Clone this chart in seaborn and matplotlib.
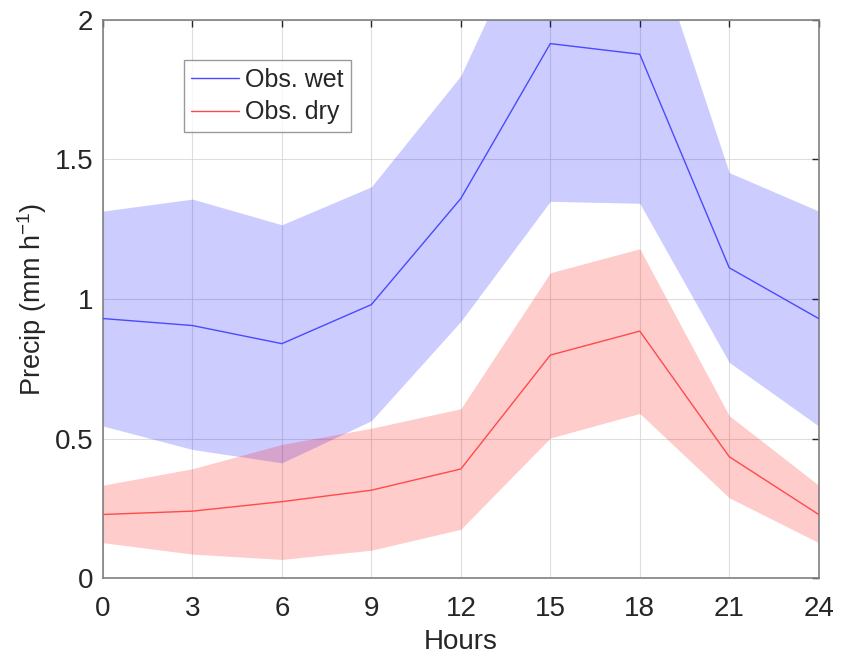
import matplotlib
matplotlib.use("Agg")
import matplotlib.pyplot as plt
import seaborn as sns
import numpy as np
import pandas as pd

hours = [0, 3, 6, 9, 12, 15, 18, 21, 24]

wet_mean = [0.93, 0.905, 0.84, 0.98, 1.36, 1.915, 1.877, 1.112, 0.93]
wet_upper = [1.315, 1.358, 1.266, 1.402, 1.80, 2.49, 2.42, 1.453, 1.315]
wet_lower = [0.545, 0.461, 0.413, 0.564, 0.92, 1.350, 1.343, 0.773, 0.545]

dry_mean = [0.228, 0.240, 0.274, 0.315, 0.391, 0.799, 0.885, 0.435, 0.228]
dry_upper = [0.333, 0.392, 0.479, 0.537, 0.607, 1.094, 1.180, 0.582, 0.333]
dry_lower = [0.127, 0.086, 0.067, 0.100, 0.175, 0.502, 0.590, 0.288, 0.127]

series_names = ["Obs. wet", "Obs. dry"]

sns.set_style("white")
plt.rcParams['font.family'] = ['Liberation Sans', 'DejaVu Sans']
plt.rcParams['mathtext.fontset'] = 'custom'
plt.rcParams['mathtext.rm'] = 'Liberation Sans'

df = pd.DataFrame({
    "Hours": hours * 2,
    "Precip": wet_mean + dry_mean,
    "Series": [series_names[0]] * len(hours) + [series_names[1]] * len(hours),
})

fig = plt.figure(figsize=(8.44, 6.63), dpi=100)
ax = fig.add_axes([0.122, 0.128, 0.848, 0.842])

# Bandas sombreadas
ax.fill_between(hours, wet_lower, wet_upper, color=(0, 0, 1), alpha=0.2, linewidth=0, zorder=1)
ax.fill_between(hours, dry_lower, dry_upper, color=(1, 0, 0), alpha=0.2, linewidth=0, zorder=1)

sns.lineplot(data=df, x="Hours", y="Precip", hue="Series",
             palette={"Obs. wet": "#4a4aff", "Obs. dry": "#ff4a4a"},
             linewidth=1.0, ax=ax, zorder=3)

ax.set_xlim(0, 24)
ax.set_ylim(0, 2)
ax.set_xticks(hours)
ax.set_yticks([0, 0.5, 1, 1.5, 2])
ax.set_yticklabels(["0", "0.5", "1", "1.5", "2"])
ax.grid(True, color="#d0d0d0", linewidth=0.8)
for gl in ax.get_xgridlines() + ax.get_ygridlines():
    gl.set_zorder(2)
    gl.set_alpha(0.7)

ax.tick_params(direction="in", length=5, width=1, colors="#262626", labelsize=20,
               top=True, right=True)
ax.tick_params(axis="x", pad=13)
ax.tick_params(axis="y", pad=7)
for sp in ax.spines.values():
    sp.set_visible(True)
    sp.set_color("#808080")
    sp.set_linewidth(1.2)

ax.set_xlabel("Hours", fontsize=20, color="#262626", labelpad=5)
ax.set_ylabel(r"Precip (mm h$\mathregular{^{-1}}$)", fontsize=19.5, color="#262626", labelpad=4)

leg = ax.legend(loc="upper left", bbox_to_anchor=(0.113, 0.928), fontsize=18,
                frameon=True, fancybox=False, edgecolor="#808080",
                handlelength=1.9, handletextpad=0.25, borderpad=0.3,
                labelspacing=0.35, borderaxespad=0)
leg.get_frame().set_linewidth(1.0)
leg.set_title(None)

fig.savefig("out.png", dpi=100)
print("saved out.png")
